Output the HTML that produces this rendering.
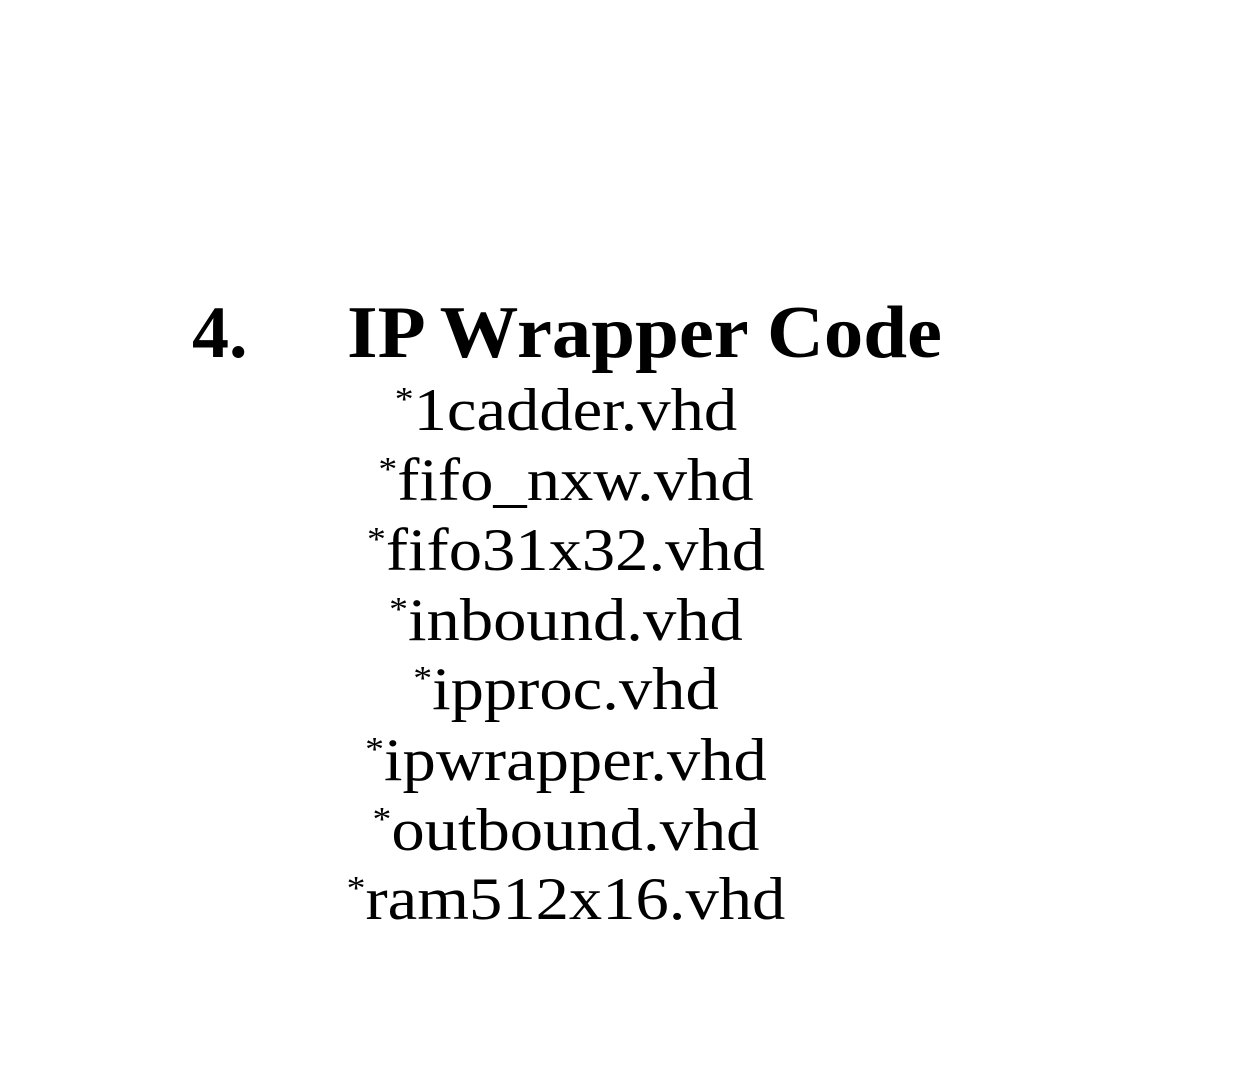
<!DOCTYPE html>
<html>
<head>
<meta charset="utf-8">
<style>
html,body{margin:0;padding:0;background:#fff;}
svg{display:block;}
</style>
</head>
<body>
<svg width="1250" height="1084" viewBox="0 0 1250 1084" xmlns="http://www.w3.org/2000/svg">
<rect width="1250" height="1084" fill="#fff"/>
<g font-family="Liberation Serif, serif" fill="#000">
<text x="192" y="357" font-size="74" font-weight="bold">4.</text>
<text x="347" y="357" font-size="74" font-weight="bold" textLength="595" lengthAdjust="spacingAndGlyphs">IP Wrapper Code</text>
<g font-size="60" text-anchor="middle" transform="translate(566,0) scale(1.11,1) translate(-566,0)">
<text x="566" y="430"><tspan font-size="34" dy="-20">*</tspan><tspan dy="20">1cadder.vhd</tspan></text>
<text x="566" y="500"><tspan font-size="34" dy="-20">*</tspan><tspan dy="20">fifo_nxw.vhd</tspan></text>
<text x="566" y="570"><tspan font-size="34" dy="-20">*</tspan><tspan dy="20">fifo31x32.vhd</tspan></text>
<text x="566" y="640"><tspan font-size="34" dy="-20">*</tspan><tspan dy="20">inbound.vhd</tspan></text>
<text x="566" y="709"><tspan font-size="34" dy="-20">*</tspan><tspan dy="20">ipproc.vhd</tspan></text>
<text x="566" y="780"><tspan font-size="34" dy="-20">*</tspan><tspan dy="20">ipwrapper.vhd</tspan></text>
<text x="566" y="850"><tspan font-size="34" dy="-20">*</tspan><tspan dy="20">outbound.vhd</tspan></text>
<text x="566" y="919"><tspan font-size="34" dy="-20">*</tspan><tspan dy="20">ram512x16.vhd</tspan></text>
</g>
</g>
</svg>
</body>
</html>
